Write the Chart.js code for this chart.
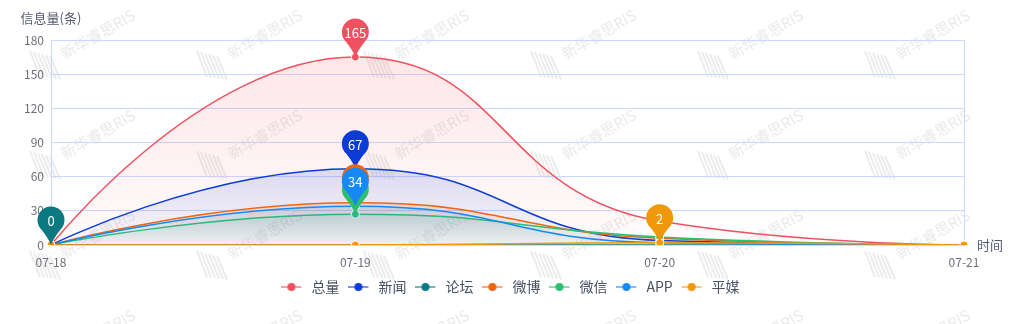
<!DOCTYPE html>
<html>
<head>
<meta charset="utf-8">
<script src="https://cdn.jsdelivr.net/npm/chart.js@4.4.1/dist/chart.umd.min.js"></script>
<style>
  html, body { margin: 0; padding: 0; background: #fff; }
  #wrap { width: 1021px; height: 324px; }
</style>
</head>
<body>
<div id="wrap"><canvas id="trendChart"></canvas></div>
<script>
// 各渠道每日信息量
const dates = ["07-18", "07-19", "07-20", "07-21"];
const seriesNames = ["总量", "新闻", "论坛", "微博", "微信", "APP", "平媒"];
const totalCounts  = [0, 165, 21, 0];
const newsCounts   = [0, 67, 4, 0];
const forumCounts  = [0, 0, 0, 0];
const weiboCounts  = [0, 37, 6, 0];
const wechatCounts = [0, 27, 7, 0];
const appCounts    = [0, 34, 2, 0];
const printCounts  = [0, 0, 2, 0];
const yTicks = [0, 30, 60, 90, 120, 150, 180];

const seriesValues = [totalCounts, newsCounts, forumCounts, weiboCounts, wechatCounts, appCounts, printCounts];
const seriesColors = ["#f0505f", "#0b3dd6", "#0a7980", "#f0650f", "#2fbd6f", "#1589f5", "#f0980a"];

const FONT = '"Noto Sans CJK SC", "Noto Sans", sans-serif';
const GRID_COLOR = "#cbd7fc";
const SMOOTH = 0.5;

function hexToRgba(hex, a) {
    const n = parseInt(hex.slice(1), 16);
    return `rgba(${(n >> 16) & 255},${(n >> 8) & 255},${n & 255},${a})`;
}

// 图例图标：横线 + 圆点
function legendIcon(color) {
    const c = document.createElement("canvas");
    c.width = 23; c.height = 10;
    const g = c.getContext("2d");
    g.strokeStyle = hexToRgba(color, 0.55);
    g.lineWidth = 2;
    g.beginPath(); g.moveTo(0, 5); g.lineTo(20, 5); g.stroke();
    g.fillStyle = color;
    g.beginPath(); g.arc(10, 5, 4, 0, Math.PI * 2); g.fill();
    return c;
}
const icons = seriesColors.map(legendIcon);

// 面积渐变：从该系列最大值处向下淡出
function areaFill(color, values) {
    return function (ctx) {
        const chart = ctx.chart;
        const area = chart.chartArea;
        if (!area) return "transparent";
        const peak = Math.max(...values);
        const top = peak > 0 ? chart.scales.y.getPixelForValue(peak) : area.top;
        const g = chart.ctx.createLinearGradient(0, top, 0, area.bottom);
        g.addColorStop(0, hexToRgba(color, 0.14));
        g.addColorStop(1, hexToRgba(color, 0.02));
        return g;
    };
}

const datasets = seriesNames.map((name, i) => ({
    label: name,
    data: seriesValues[i],
    borderColor: seriesColors[i],
    backgroundColor: areaFill(seriesColors[i], seriesValues[i]),
    borderWidth: 1.5,
    fill: "origin",
    tension: SMOOTH,
    pointRadius: 4,
    pointHoverRadius: 5,
    pointBackgroundColor: seriesColors[i],
    pointBorderColor: "#ffffff",
    pointBorderWidth: 1,
    order: seriesNames.length - i
}));

const clamp = (v, a, b) => Math.max(Math.min(v, Math.max(a, b)), Math.min(a, b));

// 平滑控制点：端点不外伸，控制点限制在相邻两点之间，避免曲线越界
function smoothPoints(pts, smooth) {
    const n = pts.length;
    if (!n) return;
    pts[0].cp2x = pts[0].x; pts[0].cp2y = pts[0].y;
    pts[n - 1].cp1x = pts[n - 1].x; pts[n - 1].cp1y = pts[n - 1].y;
    for (let i = 1; i < n - 1; i++) {
        const p = pts[i - 1], c = pts[i], q = pts[i + 1];
        const lenPrev = Math.hypot(c.x - p.x, c.y - p.y);
        const lenNext = Math.hypot(q.x - c.x, q.y - c.y);
        const ratio = lenNext / (lenNext + lenPrev);
        const vx = q.x - p.x, vy = q.y - p.y;
        let nx = clamp(c.x + vx * smooth * ratio, q.x, c.x);
        let ny = clamp(c.y + vy * smooth * ratio, q.y, c.y);
        let px = clamp(c.x - (nx - c.x) * lenPrev / lenNext, p.x, c.x);
        let py = clamp(c.y - (ny - c.y) * lenPrev / lenNext, p.y, c.y);
        nx = c.x + (c.x - px) * lenNext / lenPrev;
        ny = c.y + (c.y - py) * lenNext / lenPrev;
        c.cp1x = px; c.cp1y = py;
        c.cp2x = nx; c.cp2y = ny;
    }
}

const smoothing = {
    id: "smoothing",
    afterDatasetsUpdate(chart) {
        chart.data.datasets.forEach((ds, i) => {
            const meta = chart.getDatasetMeta(i);
            smoothPoints(meta.data, SMOOTH);
            meta.dataset._pointsUpdated = true;
        });
    }
};

// 水印
const watermark = {
    id: "watermark",
    beforeDraw(chart) {
        const ctx = chart.ctx;
        ctx.save();
        ctx.fillStyle = "#eaeaea";
        ctx.strokeStyle = "#ececec";
        ctx.font = `15px ${FONT}`;
        for (let row = 0; row < 4; row++) {
            for (let col = 0; col < 7; col++) {
                const ox = 30 + col * 167;
                const oy = 47 + row * 100;
                // 斜条纹标志
                ctx.lineWidth = 2;
                for (let k = 0; k < 6; k++) {
                    ctx.beginPath();
                    ctx.moveTo(ox + k * 4, oy + 4 + k);
                    ctx.lineTo(ox + k * 4 + 10, oy + 30 + k * 0.5);
                    ctx.stroke();
                }
                ctx.save();
                ctx.translate(ox + 32, oy + 8);
                ctx.rotate(-Math.PI / 6);
                ctx.fillText("新华睿思RIS", 0, 0);
                ctx.restore();
            }
        }
        ctx.restore();
    }
};

// 坐标轴名称
const axisNames = {
    id: "axisNames",
    afterDraw(chart) {
        const {ctx, chartArea: a} = chart;
        ctx.save();
        ctx.fillStyle = "#555a6e";
        ctx.font = `13px ${FONT}`;
        ctx.textBaseline = "middle";
        ctx.textAlign = "center";
        ctx.fillText("信息量(条)", a.left, 18);
        ctx.textAlign = "left";
        ctx.fillText("时间", a.right + 13, a.bottom);
        ctx.restore();
    }
};

// 最大值气泡标注
function drawPin(ctx, x, y, color, text) {
    const r = 13.5;
    const cy = y - 25;
    const t = 0.75;
    ctx.save();
    ctx.fillStyle = color;
    ctx.beginPath();
    ctx.arc(x, cy, r, Math.PI / 2 + t, Math.PI / 2 - t + Math.PI * 2);
    ctx.quadraticCurveTo(x + 2, y - 6, x, y);
    ctx.quadraticCurveTo(x - 2, y - 6, x - r * Math.sin(t), cy + r * Math.cos(t));
    ctx.closePath();
    ctx.fill();
    ctx.fillStyle = "#ffffff";
    ctx.font = `13px ${FONT}`;
    ctx.textAlign = "center";
    ctx.textBaseline = "middle";
    ctx.fillText(text, x, cy + 1);
    ctx.restore();
}

const maxPins = {
    id: "maxPins",
    afterDatasetsDraw(chart) {
        const ctx = chart.ctx;
        chart.data.datasets.forEach((ds, i) => {
            const meta = chart.getDatasetMeta(i);
            if (meta.hidden) return;
            const peak = Math.max(...ds.data);
            const idx = ds.data.indexOf(peak);
            const pt = meta.data[idx];
            drawPin(ctx, pt.x, pt.y, seriesColors[i], String(peak));
        });
    }
};

new Chart(document.getElementById("trendChart"), {
    type: "line",
    data: { labels: dates, datasets },
    plugins: [smoothing, watermark, axisNames, maxPins],
    options: {
        responsive: true,
        maintainAspectRatio: false,
        animation: false,
        layout: { padding: { top: 40, right: 0, left: 0, bottom: 20 } },
        plugins: {
            tooltip: { enabled: false },
            legend: {
                position: "bottom",
                labels: {
                    usePointStyle: true,
                    pointStyleWidth: 23,
                    padding: 9,
                    color: "#4b5065",
                    font: { family: FONT, size: 14 },
                    generateLabels(chart) {
                        const items = Chart.defaults.plugins.legend.labels.generateLabels(chart);
                        items.sort((a, b) => a.datasetIndex - b.datasetIndex);
                        items.forEach(it => { it.pointStyle = icons[it.datasetIndex]; });
                        return items;
                    }
                }
            }
        },
        scales: {
            x: {
                offset: false,
                grid: { display: false },
                border: { display: true, color: GRID_COLOR },
                ticks: {
                    color: "#6e7079",
                    font: { family: FONT, size: 12 },
                    padding: 2,
                    maxRotation: 0,
                    autoSkip: false
                },
                afterFit(scale) { scale.height = 26; }
            },
            y: {
                min: 0,
                max: 180,
                afterBuildTicks(scale) { scale.ticks = yTicks.map(v => ({ value: v })); },
                grid: { color: GRID_COLOR, drawTicks: false },
                border: { display: true, color: GRID_COLOR },
                ticks: {
                    color: "#6e7079",
                    font: { family: FONT, size: 12 },
                    padding: 7
                },
                afterFit(scale) { scale.width = 51; }
            },
            // 右侧留白，并用其轴线作为右边框
            yRight: {
                position: "right",
                min: 0,
                max: 180,
                grid: { display: false, drawTicks: false },
                border: { display: true, color: GRID_COLOR },
                ticks: { display: false },
                afterFit(scale) { scale.width = 57; }
            }
        }
    }
});
</script>
</body>
</html>
